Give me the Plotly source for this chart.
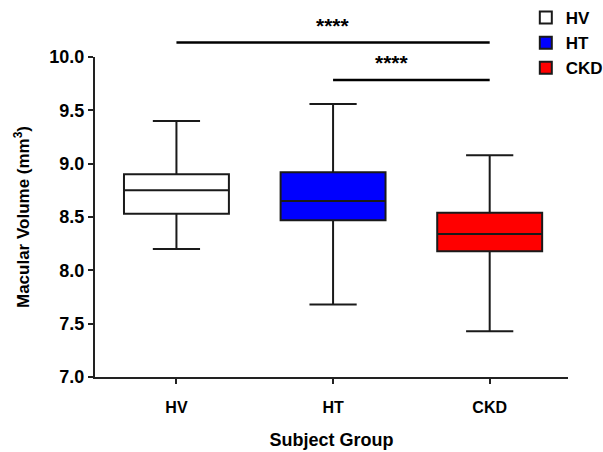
import plotly.graph_objects as go

groups = ["HV", "HT", "CKD"]
fills = ["#FFFFFF", "#0000FF", "#FF0000"]
lower_whisker = [8.20, 7.68, 7.43]
q1 = [8.53, 8.47, 8.18]
median = [8.75, 8.65, 8.34]
q3 = [8.90, 8.92, 8.54]
upper_whisker = [9.40, 9.56, 9.08]

# significance comparisons: (from group index, to group index, level, label)
sig_from = [0, 1]
sig_to = [2, 2]
sig_level = [10.135, 9.785]
sig_label = ["****", "****"]

ymin, ymax = 7.0, 10.0
xmin, xmax = -0.52, 2.5

fig = go.Figure()
for i, g in enumerate(groups):
    fig.add_trace(go.Box(
        x=[i], q1=[q1[i]], median=[median[i]], q3=[q3[i]],
        lowerfence=[lower_whisker[i]], upperfence=[upper_whisker[i]],
        name=g, legendgroup=g, fillcolor=fills[i],
        line=dict(color="#1a1a1a", width=2),
        width=0.67, whiskerwidth=0.45, boxpoints=False,
        hoverinfo="skip",
    ))

def to_paper_y(v):
    return (v - ymin) / (ymax - ymin)

def to_paper_x(v):
    return (v - xmin) / (xmax - xmin)

for a, b, lvl, lab in zip(sig_from, sig_to, sig_level, sig_label):
    fig.add_shape(type="line", xref="paper", yref="paper",
                  x0=to_paper_x(a), x1=to_paper_x(b),
                  y0=to_paper_y(lvl), y1=to_paper_y(lvl),
                  line=dict(color="black", width=2.5))
    fig.add_annotation(xref="paper", yref="paper",
                       x=to_paper_x((a + b) / 2), y=to_paper_y(lvl),
                       text=lab, showarrow=False, yanchor="bottom", yshift=4,
                       font=dict(family="Arial", size=21, color="black", weight="bold"))

fig.update_layout(
    width=603, height=452,
    margin=dict(l=95, r=35, t=57, b=75, autoexpand=False),
    plot_bgcolor="white", paper_bgcolor="white",
    boxmode="overlay",
    showlegend=True,
    legend=dict(xref="container", yref="container", x=0.872, y=1.0,
                xanchor="left", yanchor="top",
                font=dict(family="Arial", size=17, color="black", weight="bold"),
                tracegroupgap=0, itemwidth=30, bgcolor="rgba(0,0,0,0)"),
    font=dict(family="Arial", color="black"),
)
fig.update_xaxes(
    range=[xmin, xmax], tickmode="array", tickvals=[0, 1, 2], ticktext=groups,
    showline=True, linecolor="#222", linewidth=2, showgrid=False, zeroline=False,
    ticks="outside", ticklen=5, tickwidth=1.5, tickcolor="#222",
    ticklabelstandoff=10,
    tickfont=dict(family="Arial", size=16, color="black", weight="bold"),
    title=dict(text="Subject Group", standoff=18,
               font=dict(family="Arial", size=18, color="black", weight="bold")),
)
fig.update_yaxes(
    range=[ymin, ymax], tickmode="array",
    tickvals=[7.0, 7.5, 8.0, 8.5, 9.0, 9.5, 10.0],
    ticktext=["7.0", "7.5", "8.0", "8.5", "9.0", "9.5", "10.0"],
    showline=True, linecolor="#222", linewidth=2, showgrid=False, zeroline=False,
    ticks="outside", ticklen=5, tickwidth=1.5, tickcolor="#222",
    tickfont=dict(family="Arial", size=18, color="black", weight="bold"),
    title=dict(text="Macular Volume (mm<sup>3</sup>)", standoff=15,
               font=dict(family="Arial", size=17, color="black", weight="bold")),
)

fig.write_html("out.html", config={"displayModeBar": False},
               post_script="document.body.style.margin='0';")
